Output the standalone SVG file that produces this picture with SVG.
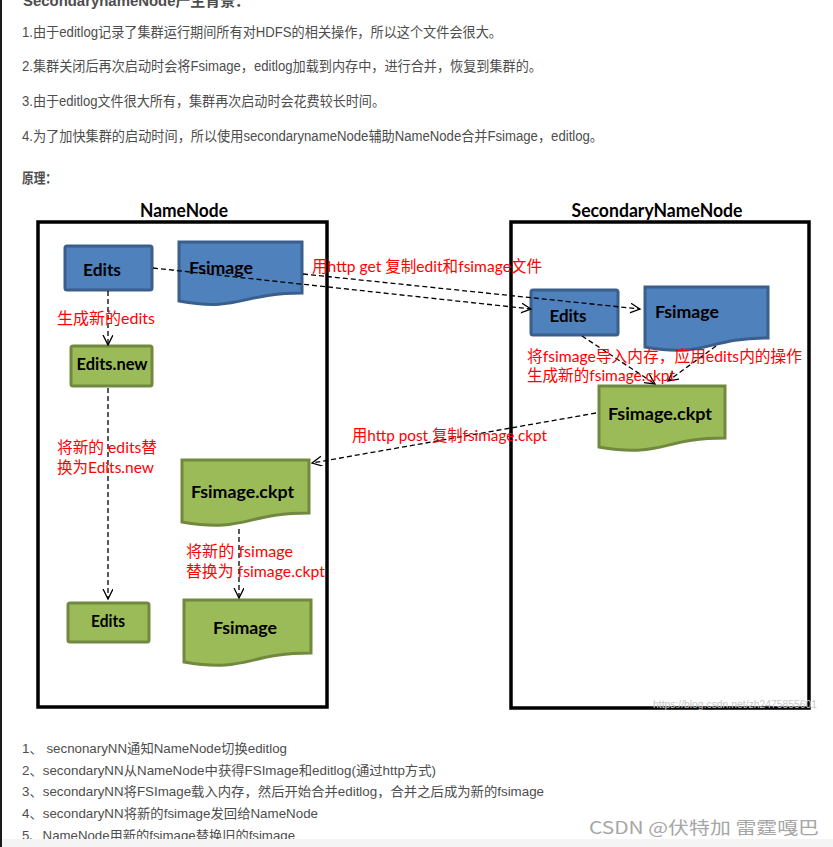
<svg xmlns="http://www.w3.org/2000/svg" width="833" height="847" viewBox="0 0 833 847">
<defs>
<style>
.para{font-family:"Liberation Sans","Noto Sans CJK SC",sans-serif;font-size:14px;fill:#4d4d4d}
.bold{font-weight:bold}
.title{font-family:Lato,"Liberation Sans",sans-serif;font-weight:bold;font-size:18px;fill:#000}
.nt{font-family:Lato,"Liberation Sans",sans-serif;font-weight:bold;font-size:17px;fill:#000}
.red{font-family:Lato,"Noto Sans CJK SC",sans-serif;font-size:16px;fill:#ff0000}
.box{fill:none;stroke:#000;stroke-width:3.5}
.blue{fill:#4f81bd;stroke:#3a5f8c;stroke-width:3}
.green{fill:#9bbb59;stroke:#71893f;stroke-width:3}
.conn{fill:none;stroke:#000;stroke-width:1.3;stroke-dasharray:5 3}
</style>
<marker id="arr" markerUnits="userSpaceOnUse" markerWidth="12" markerHeight="12" refX="10" refY="5" orient="auto" viewBox="0 0 12 12">
<path d="M0,0 L10,5 L0,10" fill="none" stroke="#000" stroke-width="1.3"/>
</marker>
</defs>
<rect x="0" y="0" width="833" height="847" fill="#fff"/>
<rect x="0" y="0" width="2" height="847" fill="#1a1a1a"/>

<g id="intro">
<text class="para bold" x="23" y="6" textLength="227" lengthAdjust="spacingAndGlyphs" style="font-size:15px">SecondarynameNode产生背景：</text>
<text class="para" x="22" y="37" textLength="480" lengthAdjust="spacingAndGlyphs">1.由于editlog记录了集群运行期间所有对HDFS的相关操作，所以这个文件会很大。</text>
<text class="para" x="22" y="71" textLength="520" lengthAdjust="spacingAndGlyphs">2.集群关闭后再次启动时会将Fsimage，editlog加载到内存中，进行合并，恢复到集群的。</text>
<text class="para" x="22" y="106" textLength="363" lengthAdjust="spacingAndGlyphs">3.由于editlog文件很大所有，集群再次启动时会花费较长时间。</text>
<text class="para" x="22" y="141" textLength="581" lengthAdjust="spacingAndGlyphs">4.为了加快集群的启动时间，所以使用secondarynameNode辅助NameNode合并Fsimage，editlog。</text>
<text class="para bold" x="22" y="183" textLength="35" lengthAdjust="spacingAndGlyphs">原理：</text>
</g>

<g id="namenode">
<rect class="box" x="38" y="222" width="289" height="485"/>
<text class="title" x="184" y="217" text-anchor="middle" textLength="88" lengthAdjust="spacingAndGlyphs">NameNode</text>
</g>
<g id="secondarynamenode">
<rect class="box" x="511" y="222" width="298" height="486"/>
<text class="title" x="657" y="217" text-anchor="middle" textLength="171" lengthAdjust="spacingAndGlyphs">SecondaryNameNode</text>
</g>

<g id="nn-edits">
<rect class="blue" x="65" y="246" width="87" height="44" rx="2"/>
<text class="nt" x="102" y="276" text-anchor="middle" textLength="38" lengthAdjust="spacingAndGlyphs">Edits</text>
</g>
<g id="nn-fsimage">
<path class="blue" d="M179,242 H302 V293 C240,293 240,312 179,301 Z"/>
<text class="nt" x="189" y="274" textLength="64" lengthAdjust="spacingAndGlyphs">Fsimage</text>
</g>
<g id="nn-edits-new">
<rect class="green" x="71" y="346" width="81" height="40" rx="2"/>
<text class="nt" x="112" y="370" text-anchor="middle" textLength="71" lengthAdjust="spacingAndGlyphs">Edits.new</text>
</g>
<g id="nn-ckpt">
<path class="green" d="M182,460 H309 V513 C245,513 245,533 182,522 Z"/>
<text class="nt" x="191" y="498" textLength="103" lengthAdjust="spacingAndGlyphs">Fsimage.ckpt</text>
</g>
<g id="nn-edits-final">
<rect class="green" x="68" y="603" width="81" height="39" rx="2"/>
<text class="nt" x="108" y="627" text-anchor="middle" textLength="34" lengthAdjust="spacingAndGlyphs">Edits</text>
</g>
<g id="nn-fsimage-final">
<path class="green" d="M184,600 H311 V653 C247,653 247,673 184,662 Z"/>
<text class="nt" x="213" y="634" textLength="64" lengthAdjust="spacingAndGlyphs">Fsimage</text>
</g>

<g id="snn-edits">
<rect class="blue" x="531" y="290" width="87" height="45" rx="2"/>
<text class="nt" x="568" y="322" text-anchor="middle" textLength="37" lengthAdjust="spacingAndGlyphs">Edits</text>
</g>
<g id="snn-fsimage">
<path class="blue" d="M645,287 H768 V338 C706,338 706,358 645,347 Z"/>
<text class="nt" x="655" y="318" textLength="64" lengthAdjust="spacingAndGlyphs">Fsimage</text>
</g>
<g id="snn-ckpt">
<path class="green" d="M599,386 H725 V438 C662,438 662,458 599,447 Z"/>
<text class="nt" x="608" y="420" textLength="104" lengthAdjust="spacingAndGlyphs">Fsimage.ckpt</text>
</g>

<g id="connectors">
<line class="conn" x1="108" y1="291" x2="108" y2="345" marker-end="url(#arr)"/>
<line class="conn" x1="108" y1="388" x2="108" y2="599" marker-end="url(#arr)"/>
<line class="conn" x1="153" y1="268" x2="531" y2="309" marker-end="url(#arr)"/>
<line class="conn" x1="303" y1="274" x2="640" y2="309" marker-end="url(#arr)"/>
<line class="conn" x1="582" y1="336" x2="655" y2="384" marker-end="url(#arr)"/>
<line class="conn" x1="716" y1="346" x2="668" y2="381" marker-end="url(#arr)"/>
<line class="conn" x1="596" y1="413" x2="312" y2="463" marker-end="url(#arr)"/>
<line class="conn" x1="239" y1="529" x2="239" y2="598" marker-end="url(#arr)"/>
</g>

<g id="labels">
<text class="red" x="57" y="324" textLength="98" lengthAdjust="spacingAndGlyphs">生成新的edits</text>
<text class="red" x="57" y="453" textLength="100" lengthAdjust="spacingAndGlyphs">将新的 edits替</text>
<text class="red" x="57" y="473" textLength="97" lengthAdjust="spacingAndGlyphs">换为Edits.new</text>
<text class="red" x="312" y="272" textLength="230" lengthAdjust="spacingAndGlyphs">用http get 复制edit和fsimage文件</text>
<text class="red" x="527" y="362" textLength="275" lengthAdjust="spacingAndGlyphs">将fsimage导入内存，应用edits内的操作</text>
<text class="red" x="527" y="381" textLength="148" lengthAdjust="spacingAndGlyphs">生成新的fsimage.ckpt</text>
<text class="red" x="352" y="441" textLength="195" lengthAdjust="spacingAndGlyphs">用http post 复制fsimage.ckpt</text>
<text class="red" x="186" y="557" textLength="107" lengthAdjust="spacingAndGlyphs">将新的 fsimage</text>
<text class="red" x="186" y="577" textLength="139" lengthAdjust="spacingAndGlyphs">替换为 fsimage.ckpt</text>
</g>

<text x="653" y="708" font-family="Liberation Sans, sans-serif" font-size="11" fill="#c8c8c8" textLength="164" lengthAdjust="spacingAndGlyphs">https://blog.csdn.net/zh2475855601</text>

<g id="steps">
<text class="para" x="22" y="753" textLength="265" lengthAdjust="spacingAndGlyphs" style="font-size:13px">1、 secnonaryNN通知NameNode切换editlog</text>
<text class="para" x="22" y="775" textLength="414" lengthAdjust="spacingAndGlyphs" style="font-size:13px">2、secondaryNN从NameNode中获得FSImage和editlog(通过http方式)</text>
<text class="para" x="22" y="796" textLength="522" lengthAdjust="spacingAndGlyphs" style="font-size:13px">3、secondaryNN将FSImage载入内存，然后开始合并editlog，合并之后成为新的fsimage</text>
<text class="para" x="22" y="818" textLength="296" lengthAdjust="spacingAndGlyphs" style="font-size:13px">4、secondaryNN将新的fsimage发回给NameNode</text>
<text class="para" x="22" y="840" textLength="273" lengthAdjust="spacingAndGlyphs" style="font-size:13px">5、NameNode用新的fsimage替换旧的fsimage</text>
</g>
<rect x="2" y="839" width="831" height="8" fill="#f4f4f4"/>
<text x="589" y="834" font-family="Noto Sans CJK SC, sans-serif" font-size="17" fill="#a6a6a6" textLength="230" lengthAdjust="spacingAndGlyphs">CSDN @伏特加 雷霆嘎巴</text>
</svg>
